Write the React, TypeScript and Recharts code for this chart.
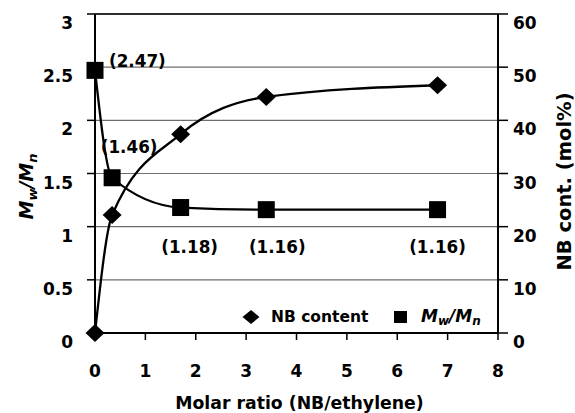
import React from 'react';
import {
  ComposedChart,
  Line,
  XAxis,
  YAxis,
  CartesianGrid,
  ReferenceLine,
  LabelList,
  Legend,
} from 'recharts';

// ---- data ----
const molarRatio = [0, 0.34, 1.7, 3.4, 6.8];
const mwMnValues = [2.47, 1.46, 1.18, 1.16, 1.16];
const nbContentValues = [0, 22.2, 37.4, 44.4, 46.6];
const xTicks = [0, 1, 2, 3, 4, 5, 6, 7, 8];
const leftTicks = [0, 0.5, 1, 1.5, 2, 2.5, 3];
const rightTicks = [0, 10, 20, 30, 40, 50, 60];
const seriesNames = ['NB content', 'Mw/Mn'];

const data = molarRatio.map((x, i) => ({ x, mw: mwMnValues[i], nb: nbContentValues[i] }));

// ---- styles ----
const FONT = '"DejaVu Sans", "Liberation Sans", Arial, sans-serif';
const tickStyle = { fontFamily: FONT, fontWeight: 700, fontSize: 17, fill: '#000' };
// per-label offsets (dx, dy, anchor) for the Mw/Mn value labels
const labelOffsets: { dx: number; dy: number; anchor: 'start' | 'middle' }[] = [
  { dx: 14, dy: -3, anchor: 'start' },
  { dx: 17, dy: -25, anchor: 'middle' },
  { dx: 9, dy: 45, anchor: 'middle' },
  { dx: 11, dy: 43, anchor: 'middle' },
  { dx: 0, dy: 43, anchor: 'middle' },
];

const LeftTick = (props: any) => {
  const { x, y, payload } = props;
  return (
    <text x={x} y={y + 15} textAnchor="end" style={tickStyle}>
      {String(payload.value)}
    </text>
  );
};
const RightTick = (props: any) => {
  const { x, y, payload } = props;
  return (
    <text x={x} y={y + 15} textAnchor="start" style={tickStyle}>
      {String(payload.value)}
    </text>
  );
};
const BottomTick = (props: any) => {
  const { x, y, payload } = props;
  return (
    <text x={x} y={y + 37} textAnchor="middle" style={tickStyle}>
      {String(payload.value)}
    </text>
  );
};

const SquareDot = (props: any) => {
  const { cx, cy, index } = props;
  if (cx == null || cy == null) return <g key={`sq-${index}`} />;
  return <rect key={`sq-${index}`} x={cx - 8.5} y={cy - 8.5} width={17} height={17} fill="#000" />;
};
const DiamondDot = (props: any) => {
  const { cx, cy, index } = props;
  if (cx == null || cy == null) return <g key={`di-${index}`} />;
  return (
    <polygon
      key={`di-${index}`}
      points={`${cx},${cy - 9} ${cx + 9.5},${cy} ${cx},${cy + 9} ${cx - 9.5},${cy}`}
      fill="#000"
    />
  );
};

const MwLabel = (props: any) => {
  const { x, y, value, index } = props;
  const o = labelOffsets[index] || { dx: 0, dy: 0, anchor: 'middle' };
  return (
    <text
      x={x + o.dx}
      y={y + o.dy}
      textAnchor={o.anchor}
      style={{ fontFamily: FONT, fontWeight: 700, fontSize: 16.8, fill: '#000' }}
    >
      {`(${Number(value).toFixed(2)})`}
    </text>
  );
};

const LeftTitle = (props: any) => {
  const vb = props.viewBox || { x: 35, y: 14, width: 60, height: 319 };
  const cx = vb.x - 2;
  const cy = vb.y + vb.height / 2 + 13;
  return (
    <text
      x={cx}
      y={cy}
      transform={`rotate(-90, ${cx}, ${cy})`}
      textAnchor="middle"
      style={{ fontFamily: FONT, fontWeight: 700, fontStyle: 'italic', fontSize: 19, fill: '#000' }}
    >
      <tspan>M</tspan>
      <tspan fontSize={13} dy={4}>w</tspan>
      <tspan dy={-4}>/M</tspan>
      <tspan fontSize={13} dy={4}>n</tspan>
    </text>
  );
};

const RightTitle = (props: any) => {
  const vb = props.viewBox || { x: 498, y: 14, width: 50, height: 319 };
  const cx = vb.x + vb.width + 23;
  const cy = vb.y + vb.height / 2 + 8;
  return (
    <text
      x={cx}
      y={cy}
      transform={`rotate(-90, ${cx}, ${cy})`}
      textAnchor="middle"
      style={{ fontFamily: FONT, fontWeight: 700, fontSize: 19.5, fill: '#000' }}
    >
      NB cont. (mol%)
    </text>
  );
};

const BottomTitle = (props: any) => {
  const vb = props.viewBox || { x: 95, y: 333, width: 403, height: 30 };
  return (
    <text
      x={vb.x + vb.width / 2 + 3}
      y={409}
      textAnchor="middle"
      style={{ fontFamily: FONT, fontWeight: 700, fontSize: 17.3, fill: '#000' }}
    >
      Molar ratio (NB/ethylene)
    </text>
  );
};

const LegendContent = () => (
  <svg width={575} height={413} style={{ position: 'absolute', left: 0, top: 0, overflow: 'visible' }}>
    <polygon points="251,310 259.5,317 251,324 242.5,317" fill="#000" />
    <text x={271} y={322} style={{ fontFamily: FONT, fontWeight: 700, fontSize: 15.5, fill: '#000' }}>
      {seriesNames[0]}
    </text>
    <rect x={394} y={311} width={13} height={12} fill="#000" />
    <text
      x={421}
      y={322}
      style={{ fontFamily: FONT, fontWeight: 700, fontStyle: 'italic', fontSize: 17, fill: '#000' }}
    >
      <tspan>M</tspan>
      <tspan fontSize={12} dy={3}>w</tspan>
      <tspan dy={-3}>/M</tspan>
      <tspan fontSize={12} dy={3}>n</tspan>
    </text>
  </svg>
);

export default function App() {
  return (
    <div style={{ position: 'absolute', left: 0, top: 0, width: 575, height: 413, background: '#fff' }}>
      <ComposedChart
        width={575}
        height={413}
        data={data}
        margin={{ top: 14, right: 27, left: 35, bottom: 50 }}
      >
        <CartesianGrid
          yAxisId="left"
          horizontal
          vertical={false}
          stroke="#6e6e6e"
          strokeWidth={1.2}
        />
        <XAxis
          dataKey="x"
          type="number"
          domain={[0, 8]}
          ticks={xTicks}
          interval={0}
          height={30}
          tickSize={7}
          tickMargin={0}
          tick={<BottomTick />}
          axisLine={{ stroke: '#000', strokeWidth: 2 }}
          tickLine={{ stroke: '#000', strokeWidth: 1.5 }}
          label={BottomTitle}
        />
        <YAxis
          yAxisId="left"
          orientation="left"
          domain={[0, 3]}
          ticks={leftTicks}
          interval={0}
          width={60}
          tickSize={8}
          tickMargin={14}
          tick={<LeftTick />}
          axisLine={{ stroke: '#000', strokeWidth: 2 }}
          tickLine={{ stroke: '#000', strokeWidth: 1.5 }}
          label={LeftTitle}
        />
        <YAxis
          yAxisId="right"
          orientation="right"
          domain={[0, 60]}
          ticks={rightTicks}
          interval={0}
          width={50}
          tickSize={10}
          tickMargin={5}
          tick={<RightTick />}
          axisLine={{ stroke: '#000', strokeWidth: 2 }}
          tickLine={{ stroke: '#000', strokeWidth: 1.5 }}
          label={RightTitle}
        />
        <ReferenceLine yAxisId="left" y={3} stroke="#000" strokeWidth={1.5} />
        <Legend
          verticalAlign="middle"
          align="center"
          layout="horizontal"
          content={LegendContent}
          wrapperStyle={{ position: 'absolute', left: 0, top: 0, width: 575, height: 413, pointerEvents: 'none' }}
        />
        <Line
          yAxisId="right"
          dataKey="nb"
          name={seriesNames[0]}
          type="monotone"
          stroke="#000"
          strokeWidth={2.3}
          dot={DiamondDot}
          activeDot={false}
          isAnimationActive={false}
        />
        <Line
          yAxisId="left"
          dataKey="mw"
          name={seriesNames[1]}
          type="monotone"
          stroke="#000"
          strokeWidth={2.3}
          dot={SquareDot}
          activeDot={false}
          isAnimationActive={false}
        >
          <LabelList dataKey="mw" content={MwLabel} />
        </Line>
      </ComposedChart>
    </div>
  );
}
